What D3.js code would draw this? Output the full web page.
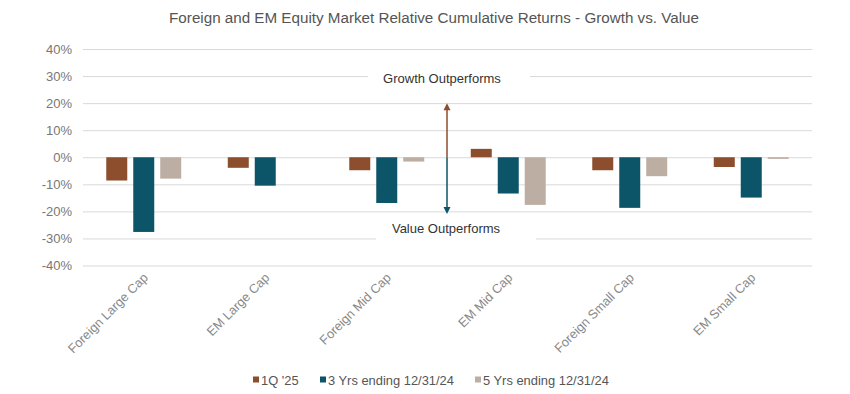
<!DOCTYPE html>
<html><head><meta charset="utf-8">
<script src="https://cdn.jsdelivr.net/npm/d3@7"></script>
<style>
html,body{margin:0;padding:0;background:#fff;}
svg{display:block;font-family:"Liberation Sans",Arial,sans-serif;}
</style></head>
<body><svg id="chart" width="850" height="394"></svg>
<script>
const categories = ["Foreign Large Cap","EM Large Cap","Foreign Mid Cap","EM Mid Cap","Foreign Small Cap","EM Small Cap"];
const seriesNames = ["1Q '25","3 Yrs ending 12/31/24","5 Yrs ending 12/31/24"];
const q1_25 =   [-0.086, -0.039, -0.048,  0.031, -0.048, -0.036];
const yrs3 =    [-0.276, -0.105, -0.169, -0.134, -0.187, -0.149];
const yrs5 =    [-0.079,  null,  -0.016, -0.176, -0.070, -0.006];
const yTicks = [-0.4,-0.3,-0.2,-0.1,0,0.1,0.2,0.3,0.4];
const colors = ["#8C4E2C","#0C5467","#BDAEA3"];
const title = "Foreign and EM Equity Market Relative Cumulative Returns - Growth vs. Value";
const annotations = {up:"Growth Outperforms", down:"Value Outperforms", upTo:0.2, downTo:-0.21};

(function(){
const series = [q1_25, yrs3, yrs5];
const svg = d3.select("#chart");
const pL = 83, pR = 812, pT = 49, pB = 265.5;

const x0 = d3.scaleBand().domain(categories).range([pL,pR]).paddingInner(0.383).paddingOuter(0.1915);
const x1 = d3.scaleBand().domain(d3.range(3)).range([0,x0.bandwidth()]).paddingInner(0.222);
const y = d3.scaleLinear().domain([-0.4,0.4]).range([pB,pT]);

// title
svg.append("text").attr("x",434).attr("y",23).attr("text-anchor","middle")
  .attr("font-size",15.2).attr("fill","#555").text(title);

// grid
const yAxis = d3.axisLeft(y).tickValues(yTicks).tickSize(-(pR-pL)).tickFormat(d3.format(".0%"));
const gy = svg.append("g").attr("transform",`translate(${pL},0)`).call(yAxis);
gy.select(".domain").remove();
gy.selectAll(".tick line").attr("stroke","#d9d9d9").attr("stroke-width",1);
gy.selectAll(".tick text").attr("x",-11).attr("font-size",13).attr("fill","#777")
  .text(d => d3.format(".0%")(d).replace("−","-"));

// bars
const groups = svg.append("g").selectAll("g").data(categories).join("g")
  .attr("transform", d => `translate(${x0(d)},0)`);
groups.selectAll("rect").data((d,i) => series.map((s,k) => ({k, v:s[i]})).filter(e => e.v !== null))
  .join("rect")
  .attr("x", d => x1(d.k)).attr("width", x1.bandwidth())
  .attr("y", d => y(Math.max(0,d.v))).attr("height", d => Math.abs(y(d.v)-y(0)))
  .attr("fill", d => colors[d.k]);

// x labels
const gx = svg.append("g");
gx.selectAll("text").data(categories).join("text")
  .attr("transform", d => `translate(${x0(d)+x0.bandwidth()/2+5},${pB+13}) rotate(-45)`)
  .attr("text-anchor","end").attr("font-size",12.8).attr("fill","#888").text(d => d);

// annotation
const ax = 447;
const ann = svg.append("g");
ann.append("rect").attr("x",368).attr("y",66).attr("width",162).attr("height",24).attr("fill","#fff");
ann.append("rect").attr("x",376).attr("y",216).attr("width",160).attr("height",24).attr("fill","#fff");
ann.append("text").attr("x",442).attr("y",83).attr("text-anchor","middle").attr("font-size",13).attr("fill","#333").text(annotations.up);
ann.append("text").attr("x",446).attr("y",233).attr("text-anchor","middle").attr("font-size",13).attr("fill","#333").text(annotations.down);
ann.append("line").attr("x1",ax).attr("x2",ax).attr("y1",y(0)).attr("y2",y(annotations.upTo)+5).attr("stroke",colors[0]).attr("stroke-width",1.5);
ann.append("line").attr("x1",ax).attr("x2",ax).attr("y1",y(0)).attr("y2",y(annotations.downTo)-5).attr("stroke",colors[1]).attr("stroke-width",1.5);
const yu = y(annotations.upTo), yd = y(annotations.downTo);
ann.append("path").attr("d",`M${ax},${yu} L${ax-3.5},${yu+7} L${ax+3.5},${yu+7}Z`).attr("fill",colors[0]);
ann.append("path").attr("d",`M${ax},${yd} L${ax-3.5},${yd-7} L${ax+3.5},${yd-7}Z`).attr("fill",colors[1]);

// legend
const legX = [253, 320, 475];
const lg = svg.append("g");
seriesNames.forEach((n,i) => {
  lg.append("rect").attr("x",legX[i]).attr("y",376.5).attr("width",6).attr("height",6).attr("fill",colors[i]);
  lg.append("text").attr("x",legX[i]+8).attr("y",384.5).attr("font-size",12.9).attr("fill","#555").text(n);
});
})();
</script></body></html>
